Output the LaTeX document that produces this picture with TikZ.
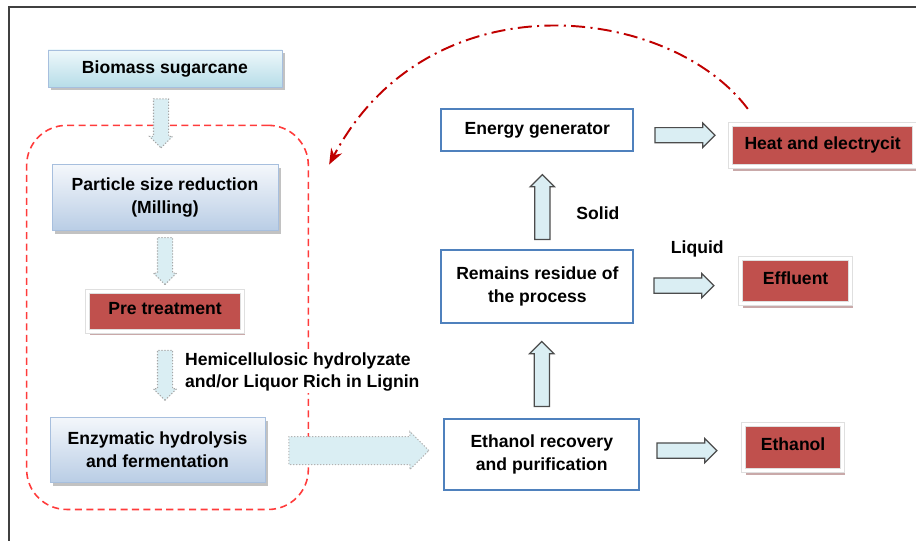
\documentclass[tikz,border=0pt]{standalone}
\usepackage{fontspec}
\setmainfont{Liberation Sans}
\usetikzlibrary{shapes,arrows.meta,positioning,calc,fit,shadows}

\definecolor{feedtop}{HTML}{EEF8FB}
\definecolor{feedbot}{HTML}{B7DDE8}
\definecolor{stagetop}{HTML}{F4F7FB}
\definecolor{stagebot}{HTML}{B9CDE5}
\definecolor{stageline}{HTML}{A7BFDE}
\definecolor{boxred}{HTML}{C0504D}
\definecolor{shadowred}{HTML}{C9A9A9}
\definecolor{lineblue}{HTML}{4F81BD}
\definecolor{arrowfill}{HTML}{DAEEF3}
\definecolor{loopred}{HTML}{FF3B3B}
\definecolor{backred}{HTML}{C00000}

\begin{document}
\begin{tikzpicture}[
            node distance=1.5cm,
            font=\fontsize{10}{12.8}\selectfont\bfseries,
            feed/.style={rectangle, draw=stageline, top color=feedtop, bottom color=feedbot, align=center, drop shadow={shadow xshift=0.05cm, shadow yshift=-0.07cm, fill=gray!80, opacity=0.6}},
            stage/.style={rectangle, draw=stageline, top color=stagetop, bottom color=stagebot, align=center, drop shadow={shadow xshift=0.05cm, shadow yshift=-0.07cm, fill=gray!80, opacity=0.6}},
            unit/.style={rectangle, draw=lineblue, line width=1.1pt, fill=white, align=center},
            outcome/.style={rectangle, fill=boxred, draw=gray!25, double=white, double distance=0.07cm, line width=0.4pt, text depth=0.12cm, drop shadow={shadow xshift=0.04cm, shadow yshift=-0.08cm, fill=shadowred, opacity=1}},
            flow/.style={single arrow, draw=black!70, fill=arrowfill, line width=0.7pt, inner sep=0.14cm, single arrow head extend=0.09cm, single arrow head indent=0pt, anchor=tail},
            dotflow/.style={flow, draw=gray!70, densely dotted, line width=0.6pt, single arrow head extend=0.08cm},
            group/.style={draw=loopred, line width=0.9pt, dash pattern=on 4pt off 2.5pt, rounded corners=0.8cm, inner sep=0pt},
            feedback/.style={draw=backred, line width=1.1pt, dash pattern=on 8pt off 3pt on 1.2pt off 3pt, -{Stealth[length=9pt, width=7pt]}},
            note/.style={inner sep=1pt, align=left}
        ]
            \useasboundingbox (0,0) rectangle (18.32,10.82);
            \clip (0,0) rectangle (18.32,10.82);
            \draw[black!75, line width=0.7pt] (0.18,-1) rectangle (19,10.68);

            % Left column
            \node[feed, minimum width=4.68cm, minimum height=0.74cm] (biomass) at (3.3,9.45) {Biomass sugarcane};
            \node[stage, below=1.54cm of biomass, minimum width=4.52cm, minimum height=1.32cm] (milling) {Particle size reduction\\(Milling)};
            \node[outcome, below=1.2cm of milling, minimum width=3.1cm, minimum height=0.8cm] (pretreat) {Pre treatment};
            \node[stage, below=1.7cm of pretreat, xshift=-0.15cm, minimum width=4.3cm, minimum height=1.3cm] (enzymatic) {Enzymatic hydrolysis\\and fermentation};

            % Right part
            \node[unit, right=3.56cm of enzymatic, yshift=-0.1cm, minimum width=3.9cm, minimum height=1.42cm] (recovery) {Ethanol recovery\\and purification};
            \node[unit, above=1.88cm of recovery, xshift=-0.09cm, minimum width=3.84cm, minimum height=1.46cm] (residue) {Remains residue of\\the process};
            \node[unit, above=1.94cm of residue, minimum width=3.84cm, minimum height=0.84cm] (generator) {Energy generator};
            \node[outcome, right=1.92cm of generator, yshift=-0.31cm, minimum width=3.68cm, minimum height=0.84cm] (heat) {Heat and electrycit};
            \node[outcome, right=2.12cm of residue, yshift=0.11cm, minimum width=2.2cm, minimum height=0.9cm] (effluent) {Effluent};
            \node[outcome, right=2.06cm of recovery, yshift=0.14cm, minimum width=1.98cm, minimum height=0.92cm] (ethanol) {Ethanol};

            % Dashed group
            \coordinate (loopsw) at ($(enzymatic.south west)+(-0.46,-0.54)$);
            \coordinate (loopne) at ($(milling.north east)+(0.6,0.78)$);
            \node[group, fit=(loopsw)(loopne)] (loop) {};

            % Block arrows
            \node[dotflow, rotate=-90, minimum height=0.98cm] (a1) at ($(biomass.south)+(-0.08,-0.22)$) {};
            \node[dotflow, rotate=-90, minimum height=0.94cm] (a2) at ($(milling.south)+(0,-0.12)$) {};
            \node[dotflow, rotate=-90, minimum height=1.0cm] (a3) at ($(pretreat.south)+(0,-0.36)$) {};
            \node[dotflow, draw=gray!60, inner sep=0.27cm, single arrow head extend=0.1cm, minimum height=2.8cm] (a4) at ($(enzymatic.east)+(0.46,-0.02)$) {};
            \node[flow, rotate=90, minimum height=1.3cm] (a5) at ($(recovery.north)+(0,0.22)$) {};
            \node[flow, rotate=90, minimum height=1.3cm] (a6) at ($(residue.north)+(0.1,0.18)$) {};
            \node[flow, minimum height=1.2cm] (a7) at ($(generator.east)+(0.4,-0.1)$) {};
            \node[flow, minimum height=1.2cm] (a8) at ($(residue.east)+(0.38,0.02)$) {};
            \node[flow, minimum height=1.2cm] (a9) at ($(recovery.east)+(0.32,0.08)$) {};

            % Labels
            \node[note, anchor=west, fill=white] (hemi) at ($(pretreat.south)+(0.36,-0.8)$) {Hemicellulosic hydrolyzate\\and/or Liquor Rich in Lignin};
            \node[note, anchor=west] (solid) at ($(residue.north)+(0.74,0.72)$) {Solid};
            \node[note] (liquid) at ($(residue.east)+(1.26,0.75)$) {Liquid};

            % Return of heat and electricity
            \coordinate (backstart) at ($(heat.north west)+(0.35,0.31)$);
            \coordinate (backend) at ($(loop.north east)+(0.4,-0.8)$);
            \draw[feedback] (backstart) .. controls (13.4,10.72) and (8.6,11.32) .. (backend);
        \end{tikzpicture}
\end{document}
